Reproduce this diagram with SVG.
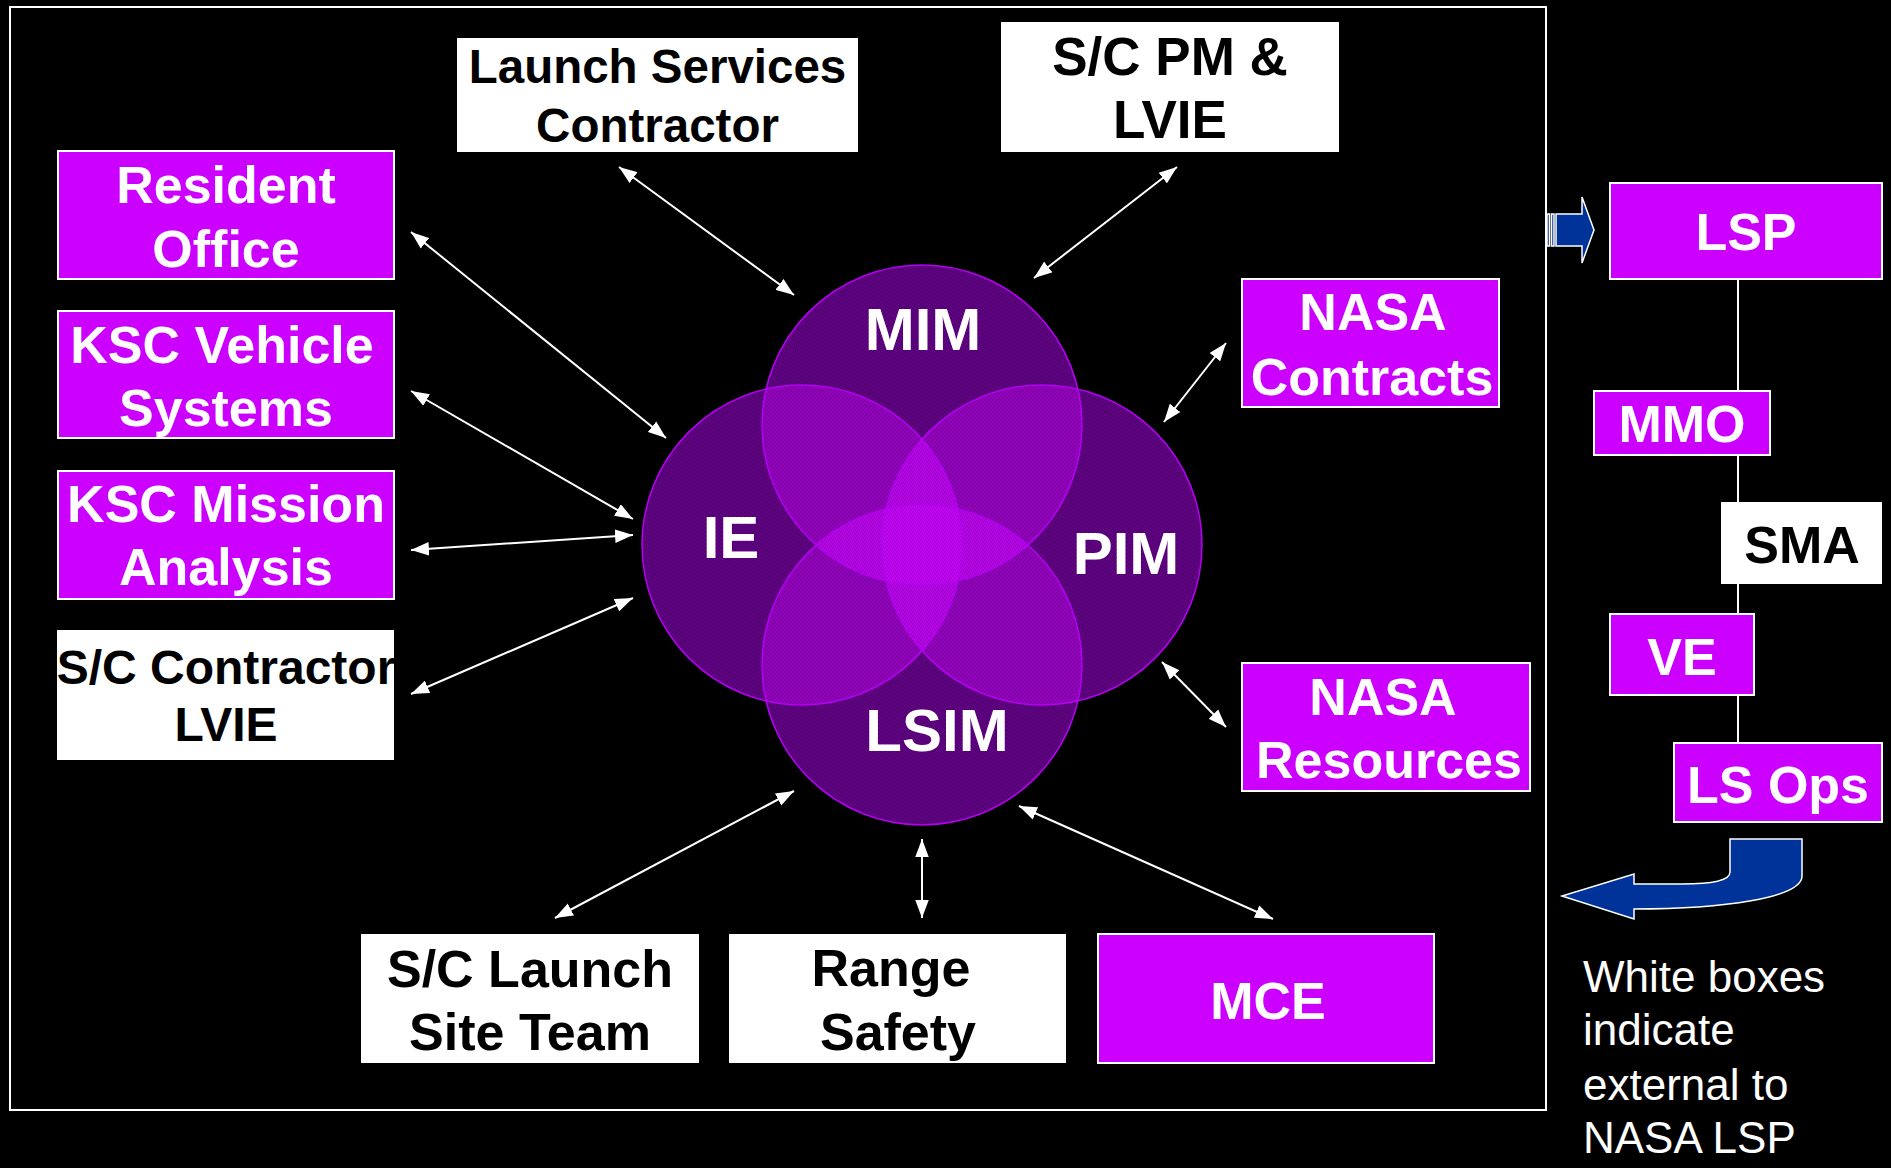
<svg xmlns="http://www.w3.org/2000/svg" width="1891" height="1168" viewBox="0 0 1891 1168">
<style>
.bx{fill:#CC00FF;stroke:#FFFFFF;stroke-width:2}
.wb{fill:#FFFFFF}
.t{font-family:"Liberation Sans",Arial,sans-serif;font-weight:bold;font-size:52px;text-anchor:middle;fill:#FFFFFF}
.k{fill:#000000}
.c{font-family:"Liberation Sans",Arial,sans-serif;font-weight:bold;font-size:60px;text-anchor:middle;fill:#FFFFFF}
.n{font-family:"Liberation Sans",Arial,sans-serif;font-size:44px;fill:#FFFFFF}
.ln{stroke:#FFFFFF;stroke-width:2;fill:none;marker-start:url(#ah);marker-end:url(#ah)}
.base{fill:#620088}
.lens{fill:#CC00FF;fill-opacity:0.5}
.rim{fill:none;stroke:#B400F0;stroke-width:1.5}
.blue{fill:#003399;stroke:#FFFFFF;stroke-width:1.5}
</style>
<defs>
<marker id="ah" markerUnits="userSpaceOnUse" markerWidth="18" markerHeight="14" refX="16" refY="6" orient="auto-start-reverse" viewBox="0 0 16 12">
<path d="M0,0 L16,6 L0,12 z" fill="#FFFFFF"/>
</marker>
<pattern id="grain" width="4" height="4" patternUnits="userSpaceOnUse">
<rect x="0" y="0" width="1" height="1" fill="#000000"/>
<rect x="2" y="1" width="1" height="1" fill="#000000"/>
<rect x="1" y="3" width="1" height="1" fill="#000000"/>
<rect x="3" y="2" width="1" height="1" fill="#000000"/>
</pattern>
<clipPath id="flower">
<circle cx="922" cy="425" r="160"/>
<circle cx="922" cy="665" r="160"/>
<circle cx="802" cy="545" r="160"/>
<circle cx="1042" cy="545" r="160"/>
</clipPath>
<clipPath id="cMIM"><circle cx="922" cy="425" r="160"/></clipPath>
<clipPath id="cIE"><circle cx="802" cy="545" r="160"/></clipPath>
<clipPath id="cPIM"><circle cx="1042" cy="545" r="160"/></clipPath>
<clipPath id="cLSIM"><circle cx="922" cy="665" r="160"/></clipPath>
</defs>
<rect x="0" y="0" width="1891" height="1168" fill="#000000"/>
<rect x="10" y="7" width="1536" height="1103" fill="none" stroke="#FFFFFF" stroke-width="2"/>

<g id="venn">
<circle class="base" cx="922" cy="425" r="160"/>
<circle class="base" cx="802" cy="545" r="160"/>
<circle class="base" cx="1042" cy="545" r="160"/>
<circle class="base" cx="922" cy="665" r="160"/>
<circle class="lens" cx="922" cy="425" r="160" clip-path="url(#cIE)"/>
<circle class="lens" cx="922" cy="425" r="160" clip-path="url(#cPIM)"/>
<circle class="lens" cx="922" cy="425" r="160" clip-path="url(#cLSIM)"/>
<circle class="lens" cx="802" cy="545" r="160" clip-path="url(#cPIM)"/>
<circle class="lens" cx="802" cy="545" r="160" clip-path="url(#cLSIM)"/>
<circle class="lens" cx="1042" cy="545" r="160" clip-path="url(#cLSIM)"/>
<rect x="640" y="263" width="565" height="565" fill="url(#grain)" opacity="0.35" clip-path="url(#flower)"/>
<circle class="rim" cx="922" cy="425" r="160"/>
<circle class="rim" cx="802" cy="545" r="160"/>
<circle class="rim" cx="1042" cy="545" r="160"/>
<circle class="rim" cx="922" cy="665" r="160"/>
<text class="c" x="923" y="350">MIM</text>
<text class="c" x="731" y="558">IE</text>
<text class="c" x="1126" y="574">PIM</text>
<text class="c" x="937" y="751">LSIM</text>
</g>

<g id="connectors">
<line class="ln" x1="619" y1="167" x2="794" y2="295"/>
<line class="ln" x1="1177" y1="167" x2="1034" y2="278"/>
<line class="ln" x1="411" y1="232" x2="666" y2="438"/>
<line class="ln" x1="411" y1="391" x2="633" y2="519"/>
<line class="ln" x1="411" y1="550" x2="633" y2="535"/>
<line class="ln" x1="411" y1="694" x2="633" y2="598"/>
<line class="ln" x1="555" y1="918" x2="794" y2="791"/>
<line class="ln" x1="922" y1="839" x2="922" y2="918"/>
<line class="ln" x1="1019" y1="806" x2="1273" y2="919"/>
<line class="ln" x1="1162" y1="662" x2="1226" y2="727"/>
<line class="ln" x1="1226" y1="343" x2="1164" y2="422"/>
<line x1="1738" y1="279" x2="1738" y2="743" stroke="#FFFFFF" stroke-width="2"/>
</g>

<g id="launch-services">
<rect class="wb" x="457" y="38" width="401" height="114"/>
<text class="t k" style="font-size:47.5px" x="657.5" y="83">Launch Services</text>
<text class="t k" style="font-size:47.5px" x="657.5" y="142">Contractor</text>
</g>
<g id="sc-pm">
<rect class="wb" x="1001" y="22" width="338" height="130"/>
<text class="t k" style="font-size:53px" x="1170" y="75">S/C PM &amp;</text>
<text class="t k" style="font-size:53px" x="1170" y="138">LVIE</text>
</g>
<g id="resident-office">
<rect class="bx" x="58" y="151" width="336" height="128"/>
<text class="t" x="226" y="203">Resident</text>
<text class="t" x="226" y="267">Office</text>
</g>
<g id="ksc-vehicle">
<rect class="bx" x="58" y="311" width="336" height="127"/>
<text class="t" x="222" y="363">KSC Vehicle</text>
<text class="t" x="226" y="426">Systems</text>
</g>
<g id="ksc-mission">
<rect class="bx" x="58" y="471" width="336" height="128"/>
<text class="t" x="226" y="522">KSC Mission</text>
<text class="t" x="226" y="585">Analysis</text>
</g>
<g id="sc-contractor">
<rect class="wb" x="57" y="630" width="337" height="130"/>
<text class="t k" style="font-size:48px" x="226" y="683.5">S/C Contractor</text>
<text class="t k" style="font-size:48px" x="226" y="741">LVIE</text>
</g>
<g id="nasa-contracts">
<rect class="bx" x="1242" y="279" width="257" height="128"/>
<text class="t" x="1373" y="330">NASA</text>
<text class="t" x="1372" y="395">Contracts</text>
</g>
<g id="nasa-resources">
<rect class="bx" x="1242" y="663" width="288" height="128"/>
<text class="t" x="1383" y="715">NASA</text>
<text class="t" x="1389" y="778">Resources</text>
</g>
<g id="sc-launch-site">
<rect class="wb" x="361" y="934" width="338" height="129"/>
<text class="t k" x="530" y="987">S/C Launch</text>
<text class="t k" x="530" y="1050">Site Team</text>
</g>
<g id="range-safety">
<rect class="wb" x="729" y="934" width="337" height="129"/>
<text class="t k" x="891" y="986">Range</text>
<text class="t k" x="898" y="1050">Safety</text>
</g>
<g id="mce">
<rect class="bx" x="1098" y="934" width="336" height="129"/>
<text class="t" x="1268" y="1019">MCE</text>
</g>

<g id="lsp">
<rect class="bx" x="1610" y="183" width="272" height="96"/>
<text class="t" x="1746" y="250">LSP</text>
</g>
<g id="mmo">
<rect class="bx" x="1594" y="391" width="176" height="64"/>
<text class="t" x="1682" y="442">MMO</text>
</g>
<g id="sma">
<rect class="wb" x="1721" y="502" width="161" height="82"/>
<text class="t k" x="1802" y="563">SMA</text>
</g>
<g id="ve">
<rect class="bx" x="1610" y="614" width="144" height="81"/>
<text class="t" x="1682" y="675">VE</text>
</g>
<g id="ls-ops">
<rect class="bx" x="1674" y="743" width="208" height="79"/>
<text class="t" x="1778" y="803">LS Ops</text>
</g>

<g id="arrow-right">
<rect class="blue" x="1547" y="214" width="2.5" height="32" stroke-width="1"/>
<rect class="blue" x="1551.5" y="214" width="2.5" height="32" stroke-width="1"/>
<path class="blue" stroke-width="1.2" d="M1556,214 L1582,214 L1582,197 L1594,230 L1582,263 L1582,246 L1556,246 Z"/>
</g>
<g id="arrow-return">
<path class="blue" d="M1730,839 L1802,839 L1802,876 C1802,898 1722,909 1634,909 L1634,919 L1562,896 L1634,874 L1634,884 L1682,884 C1712,884 1730,881 1730,872 Z"/>
</g>

<g id="note">
<text class="n" x="1583" y="992">White boxes</text>
<text class="n" x="1583" y="1045">indicate</text>
<text class="n" x="1583" y="1100">external to</text>
<text class="n" x="1583" y="1153">NASA LSP</text>
</g>
</svg>
